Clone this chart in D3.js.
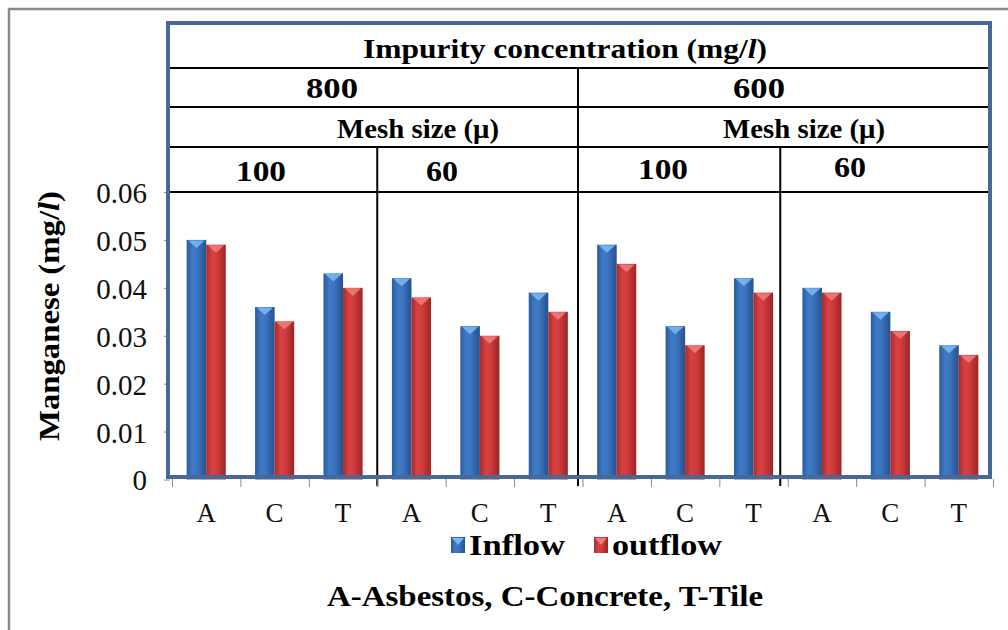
<!DOCTYPE html>
<html><head><meta charset="utf-8">
<script src="https://cdn.jsdelivr.net/npm/d3@7"></script>
<style>body{margin:0;background:#fff} svg{display:block}</style>
</head><body>
<svg id="chart" width="1008" height="630"></svg>
<script>
// Manganese in inflow / outflow by pipe material, mesh size and impurity concentration
const materials = ["A","C","T","A","C","T","A","C","T","A","C","T"];
const concentrations = ["800","600"];
const meshSizes = ["100","60","100","60"];
const seriesNames = ["Inflow","outflow"];
const inflow  = [0.050,0.036,0.043, 0.042,0.032,0.039, 0.049,0.032,0.042, 0.040,0.035,0.028];
const outflow = [0.049,0.033,0.040, 0.038,0.030,0.035, 0.045,0.028,0.039, 0.039,0.031,0.026];
const yTicks = [0,0.01,0.02,0.03,0.04,0.05,0.06];

const svg = d3.select("#chart");
const serif = "'Liberation Serif','Times New Roman',serif";
const frameBlue = "#46689a";

// page border
svg.append("rect").attr("x",9).attr("y",9).attr("width",1010).attr("height",640)
  .attr("fill","none").attr("stroke","#8a8a8a").attr("stroke-width",2.5);

const x = d3.scaleBand().domain(d3.range(materials.length)).range([172, 993]);
const xs = d3.scaleBand().domain(seriesNames).range([0, x.bandwidth()]).paddingOuter(0.75);
const y = d3.scaleLinear().domain([0, 0.06]).range([479.5, 192]);

// gradients for the cylinder-like bars
const defs = svg.append("defs");
function grad(id, stops){
  const g = defs.append("linearGradient").attr("id",id).attr("x1","0").attr("x2","1").attr("y1","0").attr("y2","0");
  stops.forEach(([o,c]) => g.append("stop").attr("offset",o).attr("stop-color",c));
}
grad("gBlue", [[0,"#2a5b9c"],[0.3,"#3f7ac6"],[0.55,"#3b74bf"],[1,"#26518d"]]);
grad("gRed",  [[0,"#a92a2a"],[0.3,"#d84141"],[0.55,"#d03c3c"],[1,"#9d2424"]]);
const fills = {Inflow:"url(#gBlue)", outflow:"url(#gRed)"};
const caps  = {Inflow:"#78b6f2", outflow:"#f07a7a"};

const rows = materials.map((m,i) => ({i, m, Inflow: inflow[i], outflow: outflow[i]}));

// bars
const bars = svg.append("g");
rows.forEach(r => {
  seriesNames.forEach(s => {
    const bx = x(r.i) + xs(s), bw = xs.bandwidth(), top = y(r[s]);
    bars.append("rect").attr("x",bx).attr("y",top).attr("width",bw).attr("height",y(0)-top)
      .attr("fill",fills[s]);
    bars.append("path")
      .attr("d",`M${bx+1.5},${top+0.5}L${bx+bw-1.5},${top+0.5}L${bx+bw/2},${top+8}Z`)
      .attr("fill",caps[s]).attr("opacity",0.9);
  });
});

// header table
const rowLines = [68, 107, 147, 192];
const tbl = svg.append("g").attr("stroke","#000").attr("stroke-width",2);
rowLines.forEach(ry => tbl.append("line").attr("x1",168).attr("x2",990).attr("y1",ry).attr("y2",ry));
// block dividers: concentration split spans from the second row, mesh splits from the fourth
const dividers = [{i:3, dx:0, top:147},{i:6, dx:-4.5, top:68},{i:9, dx:-7.5, top:147}];
dividers.forEach(d => tbl.append("line").attr("x1",x(d.i)+d.dx).attr("x2",x(d.i)+d.dx)
  .attr("y1",d.top).attr("y2",486));

// y axis ticks and labels
const yAxis = svg.append("g").attr("transform","translate(170,0)")
  .call(d3.axisLeft(y).tickValues(yTicks).tickSize(6).tickFormat(d => d===0 ? "0" : d.toFixed(2)));
yAxis.select(".domain").remove();
yAxis.selectAll(".tick line").attr("stroke","#888");
yAxis.selectAll(".tick text").attr("x",-23).attr("dy","0.36em")
  .attr("font-family",serif).attr("font-size",29).attr("fill","#111");

// x axis ticks at category boundaries
const xEdge = d3.scaleLinear().domain([0, materials.length]).range([172, 993]);
const xAxis = svg.append("g").attr("transform","translate(0,479)")
  .call(d3.axisBottom(xEdge).tickValues(d3.range(materials.length+1)).tickSize(8).tickFormat(""));
xAxis.select(".domain").remove();
xAxis.selectAll(".tick line").attr("stroke","#888");
svg.append("g").selectAll("text").data(rows).join("text")
  .attr("x", d => x(d.i) + x.bandwidth()/2).attr("y", 522)
  .attr("text-anchor","middle").attr("font-family",serif).attr("font-size",27).attr("fill","#111")
  .text(d => d.m);

// frame
svg.append("rect").attr("x",168).attr("y",23).attr("width",822).attr("height",454)
  .attr("fill","none").attr("stroke",frameBlue).attr("stroke-width",4);

// header text
const hdr = svg.append("g").attr("font-family",serif).attr("font-weight","bold").attr("fill","#000")
  .attr("text-anchor","middle");
const t = hdr.append("text").attr("x",565).attr("y",58).attr("font-size",28)
  .attr("textLength",404).attr("lengthAdjust","spacingAndGlyphs");
t.append("tspan").text("Impurity concentration (mg/");
t.append("tspan").attr("font-style","italic").text("l");
t.append("tspan").text(")");
const concX = [332, 759];
concentrations.forEach((c,k) => hdr.append("text").attr("x",concX[k]).attr("y",98).attr("font-size",29)
  .attr("textLength",52).attr("lengthAdjust","spacingAndGlyphs").text(c));
[418, 804].forEach(cx => hdr.append("text").attr("x",cx).attr("y",138).attr("font-size",28)
  .attr("textLength",162).attr("lengthAdjust","spacingAndGlyphs").text("Mesh size (\u03bc)"));
const meshX = [261, 442, 663, 850], meshY = [181, 181, 179, 177];
meshSizes.forEach((m,k) => hdr.append("text").attr("x",meshX[k]).attr("y",meshY[k]).attr("font-size",30)
  .attr("textLength", m.length===3 ? 50 : 32).attr("lengthAdjust","spacingAndGlyphs").text(m));

// y axis title
const yt = svg.append("text").attr("transform","translate(59,316) rotate(-90)")
  .attr("text-anchor","middle").attr("font-family",serif).attr("font-weight","bold").attr("font-size",30)
  .attr("textLength",250).attr("lengthAdjust","spacingAndGlyphs");
yt.append("tspan").text("Manganese (mg/");
yt.append("tspan").attr("font-style","italic").text("l");
yt.append("tspan").text(")");

// legend
const legX = [451, 594];
const leg = svg.append("g");
seriesNames.forEach((s,k) => {
  const lx = legX[k];
  leg.append("rect").attr("x",lx).attr("y",537).attr("width",14).attr("height",16).attr("fill",fills[s]);
  leg.append("path").attr("d",`M${lx+1},${538}L${lx+13},${538}L${lx+7},${545}Z`).attr("fill",caps[s]);
  leg.append("text").attr("x",lx+18).attr("y",555).attr("font-family",serif).attr("font-weight","bold")
    .attr("font-size",30).attr("textLength", k===0 ? 96 : 110).attr("lengthAdjust","spacingAndGlyphs").text(s);
});

// material key
svg.append("text").attr("x",545).attr("y",606).attr("text-anchor","middle")
  .attr("font-family",serif).attr("font-weight","bold").attr("font-size",29)
  .attr("textLength",436).attr("lengthAdjust","spacingAndGlyphs")
  .text("A-Asbestos, C-Concrete,  T-Tile");
</script>
</body></html>
